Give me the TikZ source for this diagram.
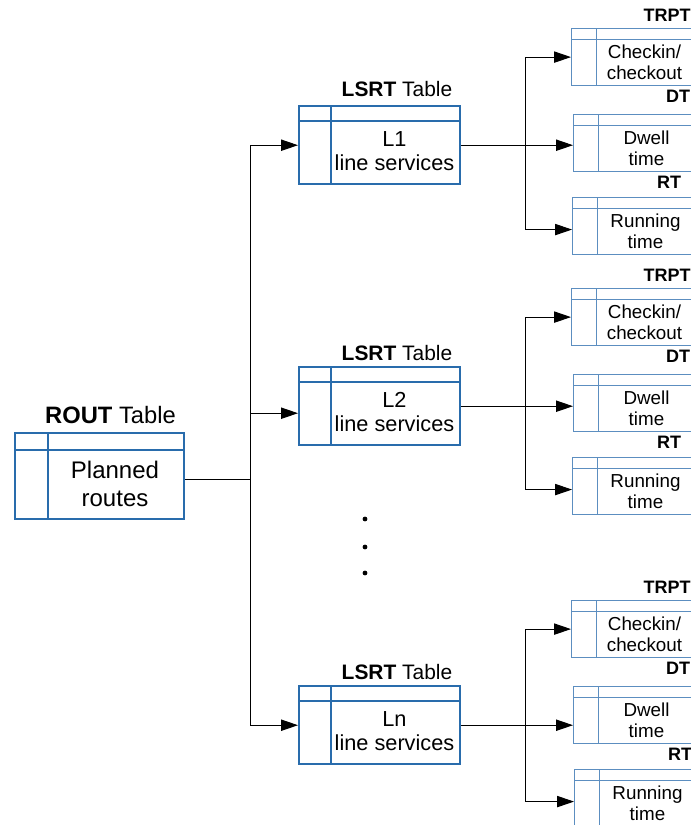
\documentclass[tikz,border=0pt]{standalone}
\usepackage{fontspec}
\setmainfont{Liberation Sans}
\usetikzlibrary{arrows.meta}
\definecolor{tabdark}{RGB}{41,108,172}
\definecolor{tablight}{RGB}{92,142,192}
\tikzset{
  tabgrid/.style n args={3}{path picture={\draw[#1]
      ([yshift=-#2]path picture bounding box.north west) -- ([yshift=-#2]path picture bounding box.north east)
      ([xshift=#3]path picture bounding box.north west) -- ([xshift=#3]path picture bounding box.south west);}},
  routtab/.style={draw=tabdark, line width=1.8pt, inner sep=0pt, anchor=north west,
    minimum width=126.75pt, minimum height=64.5pt, tabgrid={tabdark,line width=1.8pt}{12.75pt}{24.75pt}},
  lsrttab/.style={draw=tabdark, line width=1.8pt, inner sep=0pt, anchor=north west,
    minimum width=120.75pt, minimum height=58.5pt, tabgrid={tabdark,line width=1.8pt}{11.25pt}{24pt}},
  smalltab/.style={draw=tablight, line width=0.9pt, inner sep=0pt, anchor=north west,
    minimum width=91.5pt, minimum height=42.75pt, tabgrid={tablight,line width=0.9pt}{8.25pt}{18.75pt}},
  routtxt/.style={font=\fontsize{18}{21}\selectfont, align=center, inner sep=0pt},
  lsrttxt/.style={font=\fontsize{16.3}{18}\selectfont, align=center, inner sep=0pt},
  smalltxt/.style={font=\fontsize{14.1}{15.75}\selectfont, align=center, inner sep=0pt},
  routlbl/.style={font=\fontsize{17.8}{20}\selectfont, anchor=base, inner sep=0pt},
  lsrtlbl/.style={font=\fontsize{15.7}{18}\selectfont, anchor=base, inner sep=0pt},
  smalllbl/.style={font=\fontsize{13.5}{15}\selectfont\bfseries, anchor=base, inner sep=0pt},
  conn/.style={line width=0.75pt},
  arr/.style={conn, -{Triangle[length=12.75pt,width=8.5pt]}}
}
\begin{document}
\begin{tikzpicture}[x=0.75pt,y=-0.75pt]
  \useasboundingbox (0,0) rectangle (691,825);
  \clip (0,0) rectangle (691,825);
  \node[routtab] (rout) at (14,432) {};
  \node[routtxt] (rout-t) at (115,483.5) {Planned\\routes};
  \node[routlbl] (rout-l) at (110.5,423) {\textbf{ROUT} Table};
  \foreach \n/\y/\b in {1/105/96,2/366/360,n/685/679} {
    \node[lsrttab] (l\n) at (298,\y) {};
    \node[lsrttxt] (l\n-t) at (394.5,\y+46.5) {L\n\\line services};
    \node[lsrtlbl] (l\n-l) at (397,\b) {\textbf{LSRT} Table};
  }
  \coordinate (trunk) at (250,0);
  \coordinate (routout) at ([yshift=-2.25pt]rout.east);
  \coordinate (l2in) at ([yshift=-5.25pt]l2.west);
  \draw[conn] (routout) -- (routout -| trunk);
  \draw[arr] (routout -| trunk) |- (l1.west);
  \draw[arr] (routout -| trunk) |- (ln.west);
  \draw[arr] (l2in -| trunk) -- (l2in);
  \foreach \y in {519,547,573} \fill (365,\y) circle (1.8pt);
  \foreach \n/\o/\rb/\rl in {1/0/572/669,2/260/572/669,n/572/574/680} {
    \node[smalltab] (trpt\n) at (571,28+\o) {};
    \node[smalltab] (dt\n) at (573,114+\o) {};
    \node[smalltab] (rt\n) at (\rb,197+\o) {};
    \node[smalltxt] (trpt\n-t) at (644.5,62+\o) {Checkin/\\checkout};
    \node[smalltxt] (dt\n-t) at (646.5,148+\o) {Dwell\\time};
    \node[smalltxt] (rt\n-t) at (\rb+73.5,231+\o) {Running\\time};
    \node[smalllbl] (trpt\n-l) at (667,21+\o) {TRPT};
    \node[smalllbl] (dt\n-l) at (678,102+\o) {DT};
    \node[smalllbl] (rt\n-l) at (\rl,188+\o) {RT};
    \coordinate (v\n) at (525,0);
    \draw[arr] (l\n.east) -- (l\n.east -| dt\n.west);
    \draw[arr] (l\n.east -| v\n) |- (trpt\n.west);
    \draw[arr] (l\n.east -| v\n) |- ([yshift=-2.6pt]rt\n.west);
  }
\end{tikzpicture}
\end{document}
